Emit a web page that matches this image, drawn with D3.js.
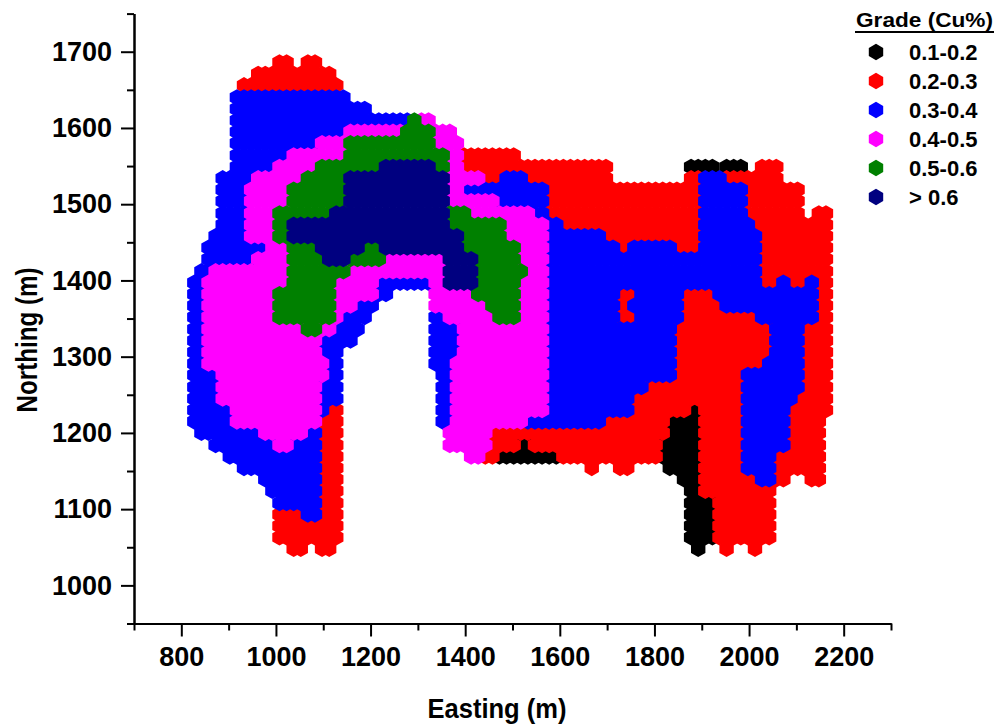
<!DOCTYPE html>
<html><head><meta charset="utf-8">
<script src="https://cdn.jsdelivr.net/npm/d3@7"></script>
<style>html,body{margin:0;background:#fff}svg{display:block}text{font-family:"Liberation Sans",Arial,sans-serif;font-weight:bold;fill:#000}</style>
</head><body><div id="c"></div>
<script>
const gradeLabels=["0.1-0.2","0.2-0.3","0.3-0.4","0.4-0.5","0.5-0.6","> 0.6"];
const gradeColors=["#000000","#ff0000","#0000ff","#ff00ff","#008000","#000080"];
const xMajor=[800,1000,1200,1400,1600,1800,2000,2200];
const xMinor=[700,900,1100,1300,1500,1700,1900,2100,2300];
const yMajor=[1000,1100,1200,1300,1400,1500,1600,1700];
const yMinor=[950,1050,1150,1250,1350,1450,1550,1650,1750];
const eastStart=827.5, eastStep=15, eastCount=90;
const northing=[1686,1671,1656,1640,1625,1610,1595,1580,1564,1549,1534,1519,1504,1488,1473,1458,1443,1428,1412,1397,1382,1367,1352,1336,1321,1306,1291,1276,1260,1245,1230,1215,1200,1184,1169,1154,1139,1124,1108,1093,1078,1063,1048];
// each row: first easting, then grade code (0 = no block, 1..6 = grade) and easting where that grade ends
const blockRows=[
[1005,2,1035,0,1060,2,1094],
[963,2,1111],
[931,2,1128],
[921,3,1143],
[921,3,1200],
[921,3,1274,5,1310,4,1327],
[921,3,1145,4,1263,5,1333,4,1373],
[921,3,1081,4,1147,5,1333,4,1382],
[921,3,1018,4,1147,5,1365,4,1397,2,1507],
[921,3,995,4,1079,5,1211,6,1342,5,1365,4,1397,2,1710,0,1873,1,1930,0,1948,1,1983,0,2019,2,2070],
[891,3,942,4,1056,5,1147,6,1365,4,1448,2,1467,3,1539,2,1710,0,1866,2,1892,3,1955,2,2070],
[891,3,935,4,1024,5,1147,6,1365,4,1405,3,1577,2,1892,3,1998,2,2101],
[891,3,935,4,1024,5,1147,6,1365,4,1475,3,1577,2,1892,3,1998,2,2101],
[891,3,935,4,995,5,1115,6,1365,5,1420,4,1545,3,1577,2,1892,3,1998,2,2101,0,2135,2,2163],
[891,3,935,4,995,5,1024,6,1365,5,1481,4,1577,3,1613,2,1892,3,2019,2,2163],
[872,3,935,4,995,5,1024,6,1397,5,1481,4,1579,3,1693,2,1892,3,2025,2,2163],
[859,3,971,4,1024,5,1088,6,1185,5,1217,6,1397,5,1517,4,1579,3,1725,2,1746,3,1843,2,1892,3,2025,2,2163],
[859,3,954,4,1024,5,1100,6,1164,5,1232,4,1359,6,1426,5,1517,4,1579,3,2025,2,2163],
[840,3,855,4,1024,5,1158,4,1354,6,1426,5,1532,4,1579,3,2025,2,2163],
[827,3,844,4,1024,5,1126,4,1217,3,1327,4,1354,6,1426,5,1517,4,1579,3,2025,2,2053,3,2082,2,2112,3,2142,2,2163],
[827,3,844,4,995,5,1126,4,1221,3,1232,0,1322,4,1412,5,1517,4,1579,3,1730,2,1763,3,1870,2,1926,3,2146,2,2163],
[827,3,844,4,995,5,1126,4,1175,3,1202,0,1330,4,1448,5,1517,4,1579,3,1730,2,1748,3,1870,2,1941,3,2146,2,2163],
[827,3,844,4,995,5,1126,4,1143,3,1189,0,1330,3,1348,4,1464,5,1517,4,1579,3,1730,2,1763,3,1870,2,2008,3,2146,2,2163],
[827,3,844,4,1048,5,1098,4,1126,3,1185,0,1330,3,1386,4,1579,3,1845,2,2046,3,2120,2,2163],
[827,3,844,4,1094,3,1160,0,1330,3,1386,4,1579,3,1845,2,2044,3,2114,2,2163],
[827,3,844,4,1094,3,1139,0,1330,3,1386,4,1579,3,1845,2,2044,3,2114,2,2163],
[827,3,844,4,1115,3,1130,0,1330,3,1369,4,1579,3,1845,2,2029,3,2114,2,2163],
[827,3,866,4,1115,3,1130,0,1345,3,1362,4,1579,3,1845,2,1987,3,2114,2,2163],
[827,3,876,4,1094,3,1130,0,1345,3,1362,4,1579,3,1788,2,1987,3,2114,2,2163],
[827,3,876,4,1094,3,1130,0,1345,3,1362,4,1579,3,1756,2,1987,3,2099,2,2163],
[827,3,906,4,1094,3,1115,2,1130,0,1345,3,1362,4,1579,3,1756,2,1873,1,1894,2,1987,3,2084,2,2163],
[827,3,906,4,1094,2,1130,0,1345,3,1362,4,1528,3,1701,2,1839,1,1894,2,1987,3,2084,2,2150],
[840,3,963,4,1067,3,1094,2,1130,0,1362,4,1454,2,1835,1,1894,2,1987,3,2084,2,2150],
[872,3,988,4,1041,3,1094,2,1130,0,1362,4,1454,2,1511,1,1539,2,1818,1,1894,2,1987,3,2084,2,2150],
[902,3,1094,2,1130,0,1410,4,1448,2,1475,1,1585,2,1818,1,1894,2,1987,3,2057,2,2150],
[933,3,1094,2,1130,0,1662,2,1678,0,1725,2,1741,0,1828,1,1894,2,1987,3,2057,2,2150],
[967,3,1094,2,1130,0,1860,1,1894,2,2014,3,2057,2,2078,0,2128,2,2150],
[988,3,1094,2,1130,0,1872,1,1894,2,2042],
[1009,3,1094,2,1130,0,1875,1,1926,2,2042],
[1009,2,1058,3,1094,2,1130,0,1875,1,1926,2,2042],
[1009,2,1130,0,1875,1,1926,2,2042],
[1009,2,1130,0,1875,1,1926,2,2042],
[1035,2,1056,0,1094,2,1115,0,1885,1,1898,0,1941,2,1953,0,2008,2,2025]
];

const W=997,H=728;
const x=d3.scaleLinear().domain([700,2300]).range([134,891]);
const y=d3.scaleLinear().domain([950,1750]).range([623.5,13.6]);
const svg=d3.select("#c").append("svg").attr("width",W).attr("height",H);

const hw=7.2,hh=8.2;
const hex=d3.line()([[0,-hh],[hw,-hh/2],[hw,hh/2],[0,hh],[-hw,hh/2],[-hw,-hh/2]])+"Z";

const eastings=d3.range(eastCount).map(i=>eastStart+i*eastStep);
const overlap=8;
const cells=[];
blockRows.forEach((row,r)=>{
  eastings.forEach(e=>{
    if(e<row[0]-4) return;
    for(let i=1;i<row.length;i+=2){
      if(e<=row[i+1]+2){
        let g=row[i];
        if(g>0){
          // a higher grade is drawn on top, so keep it back from the edge it shares with a lower grade
          const prevEnd=i>1?row[i-1]:null, prevG=i>1?row[i-2]:0;
          const nextG=i+2<row.length?row[i+2]:0;
          if(prevG>0&&prevG<g&&e-prevEnd<overlap) g=prevG;
          else if(nextG>0&&nextG<g&&row[i+1]-e<overlap) g=nextG;
          cells.push({e,n:northing[r],g});
        }
        break;
      }
    }
  });
});
cells.sort((a,b)=>a.g-b.g);
svg.append("g").selectAll("path").data(cells).join("path")
  .attr("d",hex).attr("fill",d=>gradeColors[d.g-1])
  .attr("transform",d=>`translate(${x(d.e)},${y(d.n)})`);

function style(g,size){
  g.selectAll(".domain,.tick line").attr("stroke","#000").attr("stroke-width",2);
  g.selectAll("text").style("font-size",size+"px");
}
const bx=svg.append("g").attr("transform",`translate(0,${y(950)})`);
const xa=bx.append("g").call(d3.axisBottom(x).tickValues(xMajor).tickSize(13).tickPadding(10).tickFormat(d3.format("d")).tickSizeOuter(0));
style(xa,27);
const xm=bx.append("g").call(d3.axisBottom(x).tickValues(xMinor).tickSize(7).tickFormat("").tickSizeOuter(0));
style(xm,27);
const by=svg.append("g").attr("transform",`translate(${x(700)},0)`);
const ya=by.append("g").call(d3.axisLeft(y).tickValues(yMajor).tickSize(13).tickPadding(9).tickFormat(d3.format("d")).tickSizeOuter(0));
style(ya,27);
const ym=by.append("g").call(d3.axisLeft(y).tickValues(yMinor).tickSize(7).tickFormat("").tickSizeOuter(0));
style(ym,27);

svg.append("text").attr("x",497).attr("y",718).attr("text-anchor","middle").style("font-size","28px").attr("textLength",139).attr("lengthAdjust","spacingAndGlyphs").text("Easting (m)");
svg.append("text").attr("transform","translate(37,340) rotate(-90)").attr("text-anchor","middle").style("font-size","29px").attr("textLength",145).attr("lengthAdjust","spacingAndGlyphs").text("Northing (m)");

// legend
svg.append("text").attr("x",856).attr("y",27).style("font-size","21px").attr("textLength",137).attr("lengthAdjust","spacingAndGlyphs").text("Grade (Cu%)");
svg.append("line").attr("x1",855).attr("x2",994).attr("y1",32).attr("y2",32).attr("stroke","#000").attr("stroke-width",2);
const ly=d3.scaleLinear().domain([0,5]).range([52,197]);
const leg=svg.append("g").selectAll("g").data(gradeLabels).join("g").attr("transform",(d,i)=>`translate(0,${ly(i)})`);
leg.append("path").attr("d",hex).attr("transform","translate(876,0)").attr("fill",(d,i)=>gradeColors[i]);
leg.append("text").attr("x",909).attr("y",8).style("font-size","22px").text(d=>d);
</script></body></html>
